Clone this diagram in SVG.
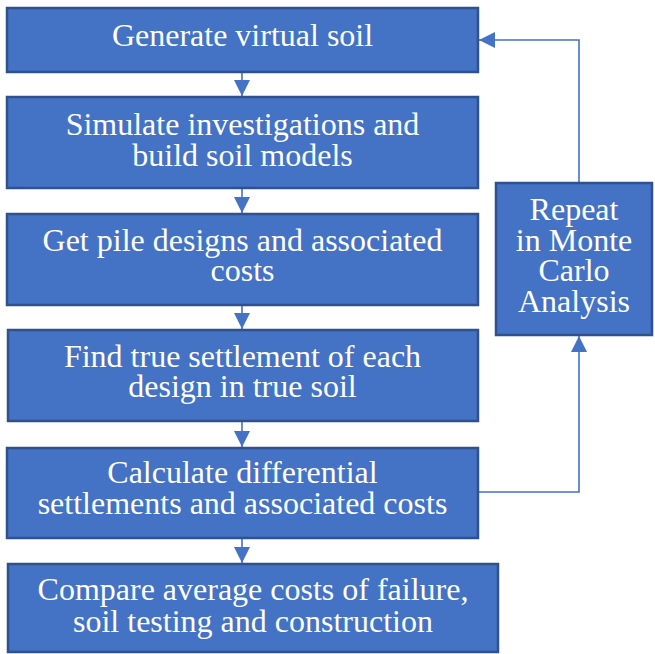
<svg xmlns="http://www.w3.org/2000/svg" width="655" height="654" viewBox="0 0 655 654">
<style>
.box{fill:#4472C4;stroke:#2F528F;stroke-width:2.5}
.t{font-family:"Liberation Serif","Times New Roman",serif;font-size:32px;fill:#FFFFFF;text-anchor:middle}
.c{fill:none;stroke:#4472C4;stroke-width:1.6}
</style>
<defs>
<marker id="ah" markerUnits="userSpaceOnUse" markerWidth="17" markerHeight="17" refX="16" refY="8" orient="auto" viewBox="0 0 17 16">
<path d="M0,0 L16,8 L0,16 z" fill="#4472C4"/>
</marker>
</defs>
<rect width="655" height="654" fill="#FFFFFF"/>
<g id="connectors">
<line class="c" x1="242" y1="72" x2="242" y2="96" marker-end="url(#ah)"/>
<line class="c" x1="242" y1="188" x2="242" y2="213" marker-end="url(#ah)"/>
<line class="c" x1="242" y1="305" x2="242" y2="329" marker-end="url(#ah)"/>
<line class="c" x1="242" y1="421" x2="242" y2="447" marker-end="url(#ah)"/>
<line class="c" x1="242" y1="538" x2="242" y2="563" marker-end="url(#ah)"/>
<polyline class="c" points="478,492 579,492 579,336" marker-end="url(#ah)"/>
<polyline class="c" points="579,183 579,40 479,40" marker-end="url(#ah)"/>
</g>
<g id="n1">
<rect class="box" x="7" y="8" width="471" height="64"/>
<text class="t" x="242.5" y="46">Generate virtual soil</text>
</g>
<g id="n2">
<rect class="box" x="7" y="97" width="471" height="91"/>
<text class="t" x="242.5" y="135">Simulate investigations and</text>
<text class="t" x="242.5" y="166">build soil models</text>
</g>
<g id="n3">
<rect class="box" x="7" y="214" width="471" height="91"/>
<text class="t" x="242.5" y="251">Get pile designs and associated</text>
<text class="t" x="242.5" y="281">costs</text>
</g>
<g id="n4">
<rect class="box" x="8" y="330" width="470" height="91"/>
<text class="t" x="242.5" y="367">Find true settlement of each</text>
<text class="t" x="242.5" y="397">design in true soil</text>
</g>
<g id="n5">
<rect class="box" x="7" y="448" width="471" height="90"/>
<text class="t" x="242.5" y="483">Calculate differential</text>
<text class="t" x="242.5" y="514">settlements and associated costs</text>
</g>
<g id="n6">
<rect class="box" x="8" y="564" width="490" height="88"/>
<text class="t" x="253" y="600">Compare average costs of failure,</text>
<text class="t" x="253" y="632">soil testing and construction</text>
</g>
<g id="n7">
<rect class="box" x="496" y="183" width="156" height="152"/>
<text class="t" x="574" y="220">Repeat</text>
<text class="t" x="574" y="251">in Monte</text>
<text class="t" x="574" y="281">Carlo</text>
<text class="t" x="574" y="312">Analysis</text>
</g>
</svg>
